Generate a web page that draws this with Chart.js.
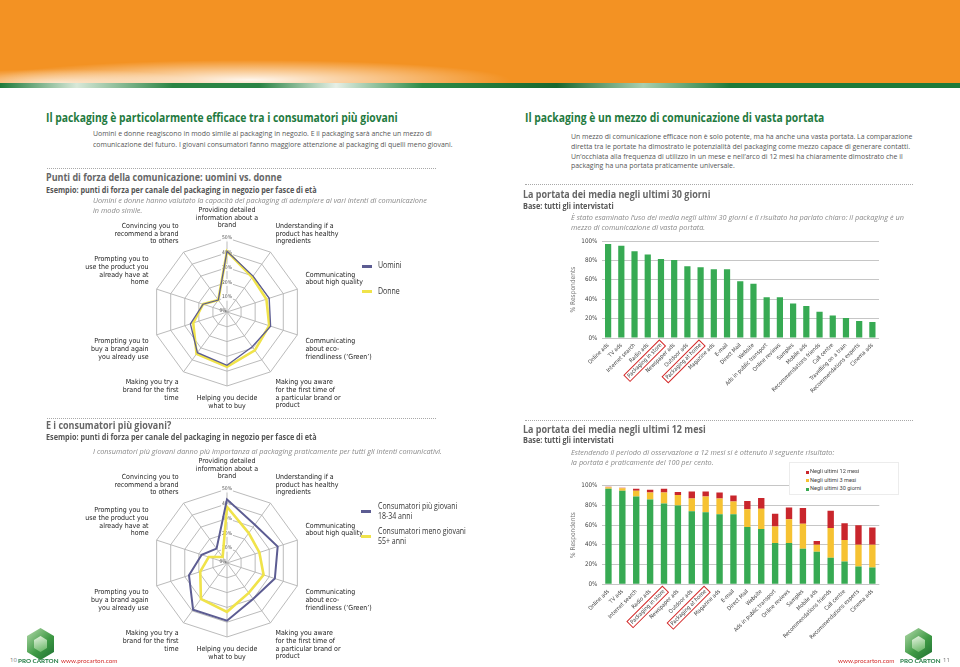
<!DOCTYPE html>
<html>
<head>
<meta charset="utf-8">
<script src="https://cdn.jsdelivr.net/npm/chart.js@4.4.1/dist/chart.umd.min.js"></script>
<style>
html,body{margin:0;padding:0;background:#fff;}
body{width:960px;height:667px;position:relative;overflow:hidden;font-family:'Open Sans','Noto Sans',sans-serif;}
.t{position:absolute;white-space:nowrap;line-height:1.2;transform-origin:0 50%;}
.h1{font-size:12.5px;font-weight:700;color:#1f7a40;}
.h2{font-size:10.5px;font-weight:700;color:#666;}
.h3{font-size:8px;font-weight:700;color:#555;}
.p{font-size:7.6px;color:#555;}
.it{font-size:7.6px;font-style:italic;color:#8a8a8a;}
.lg{font-size:8.5px;color:#333;}
.ft{font-size:6px;color:#777;}
.dot{position:absolute;height:0;border-top:1px dotted #a8a8a8;}
canvas{position:absolute;}
.ln{position:absolute;width:10px;}
.box{position:absolute;background:#fff;border:1px solid #ececec;}
.sq{position:absolute;width:3px;height:3px;}
.hex{position:absolute;width:27px;height:32px;clip-path:polygon(50% 0,100% 25%,100% 75%,50% 100%,0 75%,0 25%);background:linear-gradient(135deg,#b7dcae,#3f9a45 55%,#1d6f31);}
.hex:after{content:"";position:absolute;left:7px;top:8px;width:13px;height:16px;clip-path:polygon(50% 0,100% 25%,100% 75%,50% 100%,0 75%,0 25%);background:linear-gradient(160deg,#e9f5e4,#5fb25d);}
</style>
</head>
<body>
<div style="position:absolute;left:0;top:0;width:960px;height:83px;background:radial-gradient(ellipse 260px 20px at 250px 80px, rgba(255,255,255,0.92), rgba(255,255,255,0) 100%),radial-gradient(ellipse 140px 14px at 60px 83px, rgba(255,255,255,0.7), rgba(255,255,255,0) 100%),#f39223;"></div>
<div style="position:absolute;left:0;top:83px;width:960px;height:5px;background:linear-gradient(90deg,#1d7a3a 0%,#d8e8d8 8%,#2a8444 18%,#2a8444 27%,#e6efe6 35%,#2d8b47 44%,#18672f 58%,#a9cfb0 67%,#1d7a3a 76%,#1d7a3a 100%);"></div>

<div class="dot" style="left:47px;top:168px;width:389px"></div>
<div class="dot" style="left:47px;top:418px;width:389px"></div>
<div class="dot" style="left:525px;top:184px;width:388px"></div>
<div class="dot" style="left:525px;top:420px;width:388px"></div>

<canvas id="radar1" width="300" height="225"></canvas>
<canvas id="radar2" width="300" height="225"></canvas>
<canvas id="bar30" width="345" height="172" style="left:540px;top:228px"></canvas>
<canvas id="bar12" width="345" height="185" style="left:540px;top:470px"></canvas>

<div class="box" style="left:789px;top:462px;width:108px;height:31px"></div>
<div class="sq" style="left:806px;top:471px;background:#c9262c"></div>
<div class="sq" style="left:806px;top:479px;background:#f6c232"></div>
<div class="sq" style="left:806px;top:488px;background:#37aa53"></div>

<div class="ln" style="left:362px;top:265px;height:2.5px;background:#5c5c92"></div>
<div class="ln" style="left:362px;top:290px;height:3px;background:#f0e34a"></div>
<div class="ln" style="left:361px;top:510px;height:2.5px;background:#5c5c92"></div>
<div class="ln" style="left:361px;top:535px;height:3px;background:#f0e34a"></div>

<div class="hex" style="left:27px;top:628px"></div>
<div class="hex" style="left:905px;top:628px"></div>

<script>
// ---------- DATA ----------
const radarLabels = [
  ['Providing detailed','information about a','brand'],
  ['Understanding if a','product has healthy','ingredients'],
  ['Communicating','about high quality'],
  ['Communicating','about eco-','friendliness (\u2018Green\u2019)'],
  ['Making you aware','for the first time of','a particular brand or','product'],
  ['Helping you decide','what to buy'],
  ['Making you try a','brand for the first','time'],
  ['Prompting you to','buy a brand again','you already use'],
  ['Prompting you to','use the product you','already have at','home'],
  ['Convincing you to','recommend a brand','to others']
];
const uomini      = [41, 30, 30, 31, 29, 36, 34, 26, 17, 10];
const donne       = [41, 29, 28, 30, 32, 37, 35, 24, 17, 10];
const giovani     = [43, 32, 36, 34, 30, 39, 39, 27, 18, 12];
const menoGiovani = [38, 25, 23, 26, 25, 33, 30, 19, 13, 5];

const media30 = ['Online ads','TV ads','Internet search','Radio ads','Packaging in store','Newspaper ads','Outdoor ads','Packaging at home','Magazine ads','E-mail','Direct Mail','Website','Ads in public transport','Online reviews','Samples','Mobile ads','Recommendations friends','Call centre','Travelling on a train','Recommendations experts','Cinema ads'];
const reach30 = [97, 95, 89.5, 86, 81.5, 80.5, 74, 73, 71, 71, 58.5, 56, 42, 42, 35.5, 33, 27, 23.3, 20.5, 17.5, 16.5];

const media12 = ['Online ads','TV ads','Internet search','Radio ads','Packaging in store','Newspaper ads','Outdoor ads','Packaging at home','Magazine ads','E-mail','Direct Mail','Website','Ads in public transport','Online reviews','Samples','Mobile ads','Recommendations friends','Call centre','Recommendations experts','Cinema ads'];
const giorni30 = [97, 95, 89, 86, 82, 80, 74, 73, 71, 71, 58, 56, 42, 42, 36, 33, 27, 23, 18, 17];
const mesi3    = [1.5, 2.5, 6, 7, 11, 10.5, 13, 16, 16, 13, 18, 20.5, 16.5, 24, 25.5, 7, 30, 22, 22, 23];
const mesi12   = [0.5, 0.5, 2, 3, 4, 3, 7, 5, 6, 6, 8.5, 11, 13, 12, 16, 4, 17.5, 17, 20, 17.5];

const percentTicks = {min: 0, max: 50, step: 10};
const barTicks = {min: 0, max: 100, step: 10};
const highlighted = ['Packaging in store', 'Packaging at home'];

// ---------- TEXT ----------
const texts = [
  ['h1',46,118,'Il packaging è particolarmente efficace tra i consumatori più giovani',352],
  ['p',93,134,'Uomini e donne reagiscono in modo simile al packaging in negozio. E il packaging sarà anche un mezzo di',339],
  ['p',93,145,'comunicazione del futuro. I giovani consumatori fanno maggiore attenzione al packaging di quelli meno giovani.'],
  ['h2',46,178,'Punti di forza della comunicazione: uomini vs. donne',236],
  ['h3',46,190,'Esempio: punti di forza per canale del packaging in negozio per fasce di età',271],
  ['it',93,201,'Uomini e donne hanno valutato la capacità del packaging di adempiere ai vari intenti di comunicazione',334],
  ['it',93,211,'in modo simile.'],
  ['h2',46,426,'E i consumatori più giovani?'],
  ['h3',46,437,'Esempio: punti di forza per canale del packaging in negozio per fasce di età'],
  ['it',93,452,'I consumatori più giovani danno più importanza al packaging praticamente per tutti gli intenti comunicativi.'],
  ['h1',525,118,'Il packaging è un mezzo di comunicazione di vasta portata'],
  ['p',571,137,'Un mezzo di comunicazione efficace non è solo potente, ma ha anche una vasta portata. La comparazione'],
  ['p',571,147,'diretta tra le portate ha dimostrato le potenzialità del packaging come mezzo capace di generare contatti.'],
  ['p',571,157,'Un\u2019occhiata alla frequenza di utilizzo in un mese e nell\u2019arco di 12 mesi ha chiaramente dimostrato che il'],
  ['p',571,166,'packaging ha una portata praticamente universale.'],
  ['h2',523,195,'La portata dei media negli ultimi 30 giorni'],
  ['h3',523,206,'Base: tutti gli intervistati'],
  ['it',571,218,'È stato esaminato l\u2019uso dei media negli ultimi 30 giorni e il risultato ha parlato chiaro: il packaging è un'],
  ['it',571,228,'mezzo di comunicazione di vasta portata.'],
  ['h2',523,430,'La portata dei media negli ultimi 12 mesi'],
  ['h3',523,440,'Base: tutti gli intervistati'],
  ['it',571,453,'Estendendo il periodo di osservazione a 12 mesi si è ottenuto il seguente risultato:'],
  ['it',571,463,'la portata è praticamente del 100 per cento.'],
  ['lg',378,265,'Uomini'],
  ['lg',378,291,'Donne'],
  ['lg',378,506,'Consumatori più giovani'],
  ['lg',378,516,'18-34 anni'],
  ['lg',378,531,'Consumatori meno giovani',88],
  ['lg',378,541,'55+ anni'],
  ['ft',10,661,'10'],
  ['ft',943,661,'11']
];
const classScale = {};
const els = [];
texts.forEach(([cls,x,y,txt,w]) => {
  const d = document.createElement('div');
  d.className = 't ' + cls;
  d.textContent = txt;
  document.body.appendChild(d);
  const fs = parseFloat(getComputedStyle(d).fontSize);
  d.style.left = x + 'px';
  d.style.top = (y - fs * 0.62) + 'px';
  if (w) classScale[cls] = w / d.offsetWidth;
  els.push([d, cls]);
});
els.forEach(([d, cls]) => { if (classScale[cls]) d.style.transform = 'scaleX(' + classScale[cls].toFixed(3) + ')'; });

function addSpan(x, y, txt, css) {
  const d = document.createElement('div');
  d.className = 't';
  d.textContent = txt;
  d.style.cssText += css + ';left:' + x + 'px;top:' + (y - 4) + 'px';
  document.body.appendChild(d);
}
addSpan(18, 661, 'PRO CARTON', 'font-size:6.3px;font-weight:700;color:#1f7a40;font-family:Lato');
addSpan(61, 661, 'www.procarton.com', 'font-size:6.3px;color:#d3302f;font-family:Lato');
addSpan(838, 661, 'www.procarton.com', 'font-size:6.3px;color:#d3302f;font-family:Lato');
addSpan(900, 661, 'PRO CARTON', 'font-size:6.3px;font-weight:700;color:#1f7a40;font-family:Lato');

addSpan(810, 472, 'Negli ultimi 12 mesi', 'font-size:5.6px;color:#444;font-family:Roboto');
addSpan(810, 480.5, 'Negli ultimi 3 mesi', 'font-size:5.6px;color:#444;font-family:Roboto');
addSpan(810, 489, 'Negli ultimi 30 giorni', 'font-size:5.6px;color:#444;font-family:Roboto');

// ---------- CHARTS ----------
const NARROW = "'Liberation Sans Narrow','DejaVu Sans Condensed','Roboto',sans-serif";
Chart.defaults.font.family = NARROW;
Chart.defaults.animation = false;

const zeroLabel = {
  id: 'zeroLabel',
  beforeDatasetsDraw(chart) {
    const s = chart.scales.r, ctx = chart.ctx;
    ctx.save();
    ctx.font = '5px ' + NARROW;
    ctx.fillStyle = '#555';
    ctx.textAlign = 'center';
    ctx.textBaseline = 'middle';
    ctx.fillText(percentTicks.min + '%', s.xCenter - 4, s.yCenter - 1);
    ctx.restore();
  }
};

function makeRadar(id, datasets, cx, cy, radius) {
  const canvas = document.getElementById(id);
  let pad = 10;
  const chart = new Chart(canvas, {
    type: 'radar',
    data: {labels: radarLabels, datasets},
    options: {
      responsive: false, animation: false, devicePixelRatio: 1,
      layout: {padding: pad},
      plugins: {legend: {display: false}, tooltip: {enabled: false}},
      elements: {point: {radius: 0}, line: {tension: 0, fill: false}},
      scales: {
        r: {
          min: percentTicks.min, max: percentTicks.max,
          ticks: {stepSize: percentTicks.step, callback: v => v + '%', font: {size: 5}, color: '#555',
                  backdropColor: 'rgba(255,255,255,0.9)', backdropPadding: 1},
          grid: {color: '#b3b3b3', lineWidth: 0.9},
          angleLines: {color: '#b3b3b3', lineWidth: 0.9},
          pointLabels: {font: {size: 7, lineHeight: 1.1}, color: '#222', padding: 5}
        }
      }
    },
    plugins: [zeroLabel]
  });
  for (let k = 0; k < 8; k++) {
    const d = chart.scales.r.drawingArea - radius;
    if (Math.abs(d) < 0.25) break;
    pad += d;
    chart.options.layout.padding = pad;
    chart.update('none');
  }
  const s = chart.scales.r;
  canvas.style.left = (cx - s.xCenter) + 'px';
  canvas.style.top = (cy - s.yCenter) + 'px';
  return chart;
}

makeRadar('radar1', [
  {label: 'Uomini', data: uomini, borderColor: '#5c5c92', borderWidth: 1.3, order: 0},
  {label: 'Donne', data: donne, borderColor: '#f0e34a', borderWidth: 2.6, order: 1}
], 227, 312, 74);

makeRadar('radar2', [
  {label: 'Consumatori più giovani 18-34 anni', data: giovani, borderColor: '#5c5c92', borderWidth: 2, order: 0},
  {label: 'Consumatori meno giovani 55+ anni', data: menoGiovani, borderColor: '#f0e34a', borderWidth: 2.6, order: 1}
], 227, 563, 74);

const highlightPlugin = {
  id: 'highlightLabels',
  afterDraw(chart) {
    const sc = chart.scales.x, ctx = chart.ctx;
    const items = sc.getLabelItems();
    highlighted.forEach(name => {
      const i = chart.data.labels.indexOf(name);
      const it = items[i];
      if (!it) return;
      const o = it.options;
      ctx.save();
      ctx.translate(o.translation[0], o.translation[1]);
      ctx.rotate(o.rotation);
      ctx.font = it.font.string;
      const w = ctx.measureText(it.label).width;
      const h = it.font.size;
      let y0 = it.textOffset || 0;
      if (o.textBaseline === 'middle') y0 -= h / 2;
      else if (o.textBaseline === 'bottom' || o.textBaseline === 'alphabetic') y0 -= h;
      const x0 = o.textAlign === 'right' ? -w : (o.textAlign === 'center' ? -w / 2 : 0);
      ctx.strokeStyle = '#d42a2a';
      ctx.lineWidth = 1;
      ctx.strokeRect(x0 - 2, y0 - 1.5, w + 4, h + 3);
      ctx.restore();
    });
  }
};

function barOptions(padTop, padRight, xHeight, stacked) {
  return {
    responsive: false, animation: false, devicePixelRatio: 1,
    layout: {padding: {left: 29, top: padTop, right: padRight, bottom: 0}},
    plugins: {legend: {display: false}, tooltip: {enabled: false}},
    scales: {
      x: {
        stacked,
        grid: {display: false, drawTicks: false}, border: {display: false},
        ticks: {autoSkip: false, maxRotation: 45, minRotation: 45, font: {size: 5.6}, color: '#444', padding: 4},
        afterFit(s) { s.height = xHeight; }
      },
      y: {
        stacked,
        min: barTicks.min, max: barTicks.max,
        ticks: {stepSize: barTicks.step, callback: v => v + '%', font: {size: 6.3}, color: '#444', padding: 4},
        grid: {color: '#c6c6c6', lineWidth: 1, drawTicks: false}, border: {display: false},
        title: {display: true, text: '% Respondents', font: {size: 6.6}, color: '#777', padding: {top: 0, bottom: 0}},
        afterFit(s) { s.width = 32.5; }
      }
    }
  };
}

new Chart(document.getElementById('bar30'), {
  type: 'bar',
  data: {labels: media30, datasets: [{label: 'Ultimi 30 giorni', data: reach30, backgroundColor: '#37aa53', barPercentage: 0.47, categoryPercentage: 1}]},
  options: barOptions(13, 6, 62, false),
  plugins: [highlightPlugin]
});

new Chart(document.getElementById('bar12'), {
  type: 'bar',
  data: {labels: media12, datasets: [
    {label: 'Negli ultimi 30 giorni', data: giorni30, backgroundColor: '#37aa53', barPercentage: 0.46, categoryPercentage: 1},
    {label: 'Negli ultimi 3 mesi', data: mesi3, backgroundColor: '#f6c232', barPercentage: 0.46, categoryPercentage: 1},
    {label: 'Negli ultimi 12 mesi', data: mesi12, backgroundColor: '#c9262c', barPercentage: 0.46, categoryPercentage: 1}
  ]},
  options: barOptions(15.7, 5.7, 70.7, true),
  plugins: [highlightPlugin]
});
</script>
</body>
</html>
